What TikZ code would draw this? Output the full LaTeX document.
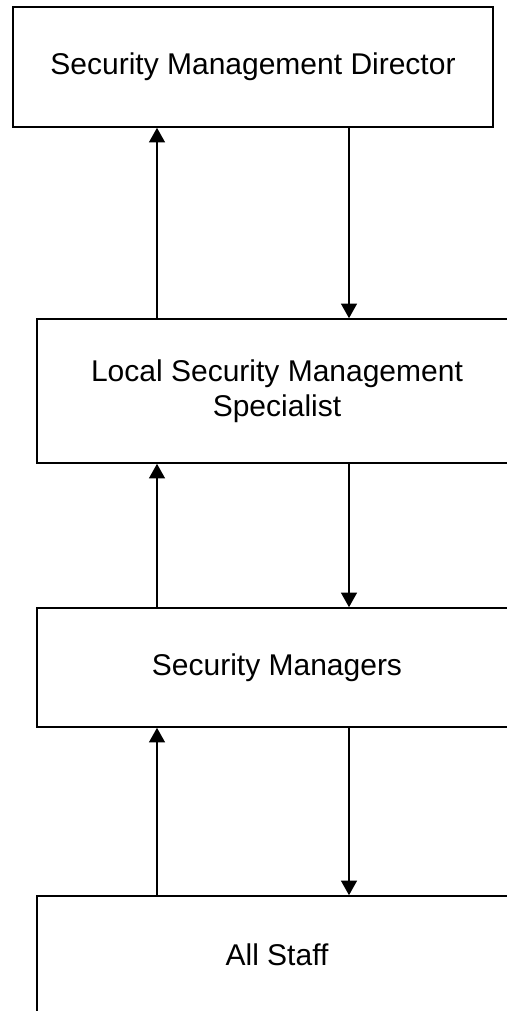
\documentclass[tikz,border=0pt]{standalone}
\usepackage{fontspec}
\setmainfont{Liberation Sans}
\usetikzlibrary{arrows.meta}

\begin{document}
\begin{tikzpicture}[
    x=0.75pt, y=-0.75pt,
    every node/.style={draw, rectangle, line width=1.2pt, minimum width=360pt, align=center, font=\fontsize{22.5}{26.5}\selectfont},
    role/.style={fill=white},
    arrow/.style={-{Triangle[width=12pt,length=11pt]}, line width=1.2pt}
]
\path[use as bounding box, clip] (0,0) rectangle (507,1011);

\node[role, minimum height=90pt] (1) at (253,67) {Security Management Director};
\node[role, minimum height=108pt] (2) at (277,391) {Local Security Management\\Specialist};
\node[role, minimum height=89.25pt] (3) at (277,667.5) {Security Managers};
\node[role, minimum height=88.5pt] (4) at (277,955) {All Staff};

\coordinate (up) at (157,0);
\coordinate (down) at (349,0);

\draw[arrow] (2.north -| up) -- (1.south -| up);
\draw[arrow] (1.south -| down) -- (2.north -| down);
\draw[arrow] (3.north -| up) -- (2.south -| up);
\draw[arrow] (2.south -| down) -- (3.north -| down);
\draw[arrow] (4.north -| up) -- (3.south -| up);
\draw[arrow] (3.south -| down) -- (4.north -| down);
\end{tikzpicture}
\end{document}
